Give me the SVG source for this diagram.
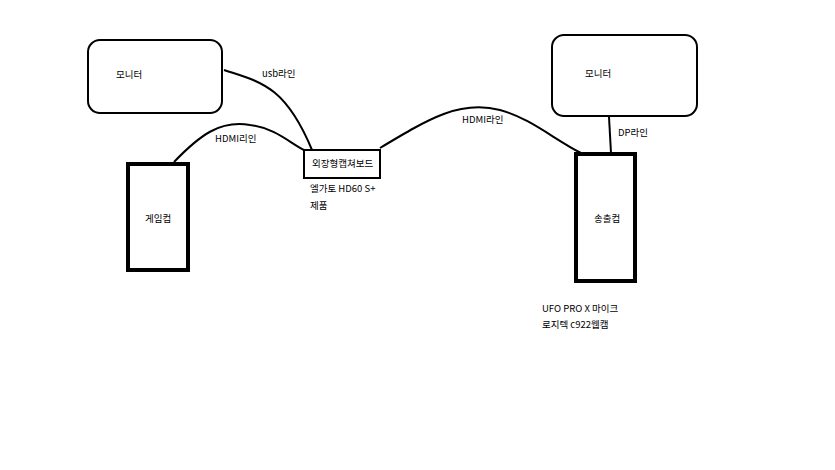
<svg xmlns="http://www.w3.org/2000/svg" width="835" height="470" viewBox="0 0 835 470">
<style>
text{font-family:"Noto Sans CJK KR","Liberation Sans",sans-serif;font-size:9.5px;fill:#000}
.n{fill:#fff;stroke:#000}
.c{fill:none;stroke:#000;stroke-width:2}
</style>
<rect width="835" height="470" fill="#fff"/>
<g id="monitor1"><rect class="n" x="88" y="40" width="134" height="73" rx="12" stroke-width="2"/><text x="116" y="78">모니터</text></g>
<g id="gamepc"><rect class="n" x="128" y="164" width="60" height="106" stroke-width="4"/><text x="145" y="222">게임컴</text></g>
<g id="capture"><rect class="n" x="304" y="150" width="76" height="28" stroke-width="2"/><text x="312" y="167">외장형캡쳐보드</text></g>
<g id="monitor2"><rect class="n" x="552" y="35" width="145" height="81" rx="12" stroke-width="2"/><text x="585" y="77">모니터</text></g>
<g id="streampc"><rect class="n" x="576" y="154" width="59" height="127" stroke-width="4"/><text x="594" y="222">송출컴</text></g>
<g id="connectors">
<path class="c" d="M224,70 C260,82 285,85 312,150"/>
<path class="c" d="M174,162 C200,135 220,120 250,125 C275,128 290,143 304,150"/>
<path class="c" d="M380,148 C430,118 460,100 500,110 C530,118 555,140 581,153"/>
<path class="c" d="M609,117 L611,153"/>
</g>
<g id="labels">
<text x="262" y="77">usb라인</text>
<text x="215" y="142">HDMI리인</text>
<text x="462" y="123">HDMI라인</text>
<text x="618" y="136">DP라인</text>
<text x="310" y="192">엘가토 HD60 S+</text>
<text x="310" y="209">제품</text>
<text x="542" y="312">UFO PRO X 마이크</text>
<text x="542" y="328">로지텍 c922웹캠</text>
</g>
</svg>
